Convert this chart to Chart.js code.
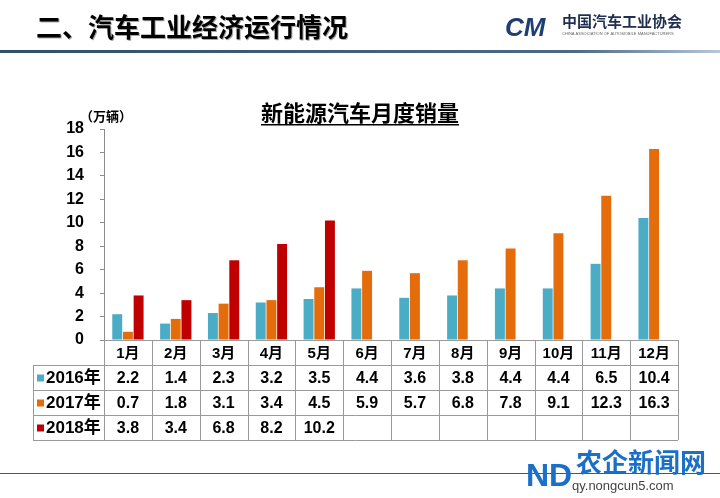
<!DOCTYPE html>
<html lang="zh">
<head>
<meta charset="UTF-8">
<title>新能源汽车月度销量</title>
<script src="https://cdn.jsdelivr.net/npm/chart.js"></script>
<style>
  body { margin: 0; background: #fff; }
  #wrap { width: 720px; height: 498px; }
</style>
</head>
<body>
<div id="wrap"><canvas id="myChart" width="720" height="498"></canvas></div>
<script>
  const months = ['1月', '2月', '3月', '4月', '5月', '6月', '7月', '8月', '9月', '10月', '11月', '12月'];
  const seriesNames = ['2016年', '2017年', '2018年'];
  const sales2016 = [2.2, 1.4, 2.3, 3.2, 3.5, 4.4, 3.6, 3.8, 4.4, 4.4, 6.5, 10.4];
  const sales2017 = [0.7, 1.8, 3.1, 3.4, 4.5, 5.9, 5.7, 6.8, 7.8, 9.1, 12.3, 16.3];
  const sales2018 = [3.8, 3.4, 6.8, 8.2, 10.2, null, null, null, null, null, null, null];
  const yTicks = [0, 2, 4, 6, 8, 10, 12, 14, 16, 18];

  const colors = ['#4bacc6', '#e46c0a', '#c00000'];
  const allSeries = [sales2016, sales2017, sales2018];
  const cjk = '"Liberation Sans", Arial, "Noto Sans CJK SC", sans-serif';

  // header, title, data table and footer are painted around the chart area
  const decor = {
    id: 'decor',
    afterDraw(chart) {
      const c = chart.ctx;
      const area = chart.chartArea;
      const xs = chart.scales.x;
      const step = (area.right - area.left) / months.length;
      const rowH = 25;
      const top = area.bottom;
      const legendLeft = 33;

      c.save();
      // page header
      c.shadowColor = 'rgba(0,0,0,0.35)';
      c.shadowOffsetX = 1;
      c.shadowOffsetY = 1;
      c.fillStyle = '#000';
      c.font = 'bold 26px "Noto Sans CJK SC", sans-serif';
      c.textBaseline = 'alphabetic';
      c.fillText('二、汽车工业经济运行情况', 36, 37);
      c.shadowColor = 'transparent';

      const g = c.createLinearGradient(0, 0, 720, 0);
      g.addColorStop(0, '#2f4f6e');
      g.addColorStop(0.8, '#4a6a88');
      g.addColorStop(1, '#b8c8d8');
      c.fillStyle = g;
      c.fillRect(0, 50, 720, 3);

      // logo
      c.fillStyle = '#1f3f73';
      c.font = 'italic bold 26px "Liberation Sans", sans-serif';
      c.fillText('CM', 505, 36);
      c.font = 'bold 15px "Noto Sans CJK SC", sans-serif';
      c.fillStyle = '#1f2f4f';
      c.fillText('中国汽车工业协会', 562, 27);
      c.font = '4px "Liberation Sans", sans-serif';
      c.fillStyle = '#666';
      c.fillText('CHINA ASSOCIATION OF AUTOMOBILE MANUFACTURERS', 562, 35);

      // chart title
      c.fillStyle = '#000';
      c.font = 'bold 22px "Noto Sans CJK SC", sans-serif';
      c.textAlign = 'center';
      c.fillText('新能源汽车月度销量', 360, 121);
      const tw = c.measureText('新能源汽车月度销量').width;
      c.fillRect(360 - tw / 2, 124, tw, 1.5);

      // unit
      c.font = 'bold 13px "Noto Sans CJK SC", sans-serif';
      c.textAlign = 'left';
      c.fillText('（万辆）', 80, 121);

      // table grid
      c.strokeStyle = '#9a9a9a';
      c.lineWidth = 1;
      c.beginPath();
      c.moveTo(area.left, top + 0.5);
      c.lineTo(area.right, top + 0.5);
      for (let r = 1; r <= 4; r++) {
        const yy = Math.round(top + r * rowH) + 0.5;
        c.moveTo(legendLeft, yy);
        c.lineTo(area.right, yy);
      }
      c.moveTo(legendLeft + 0.5, top + rowH);
      c.lineTo(legendLeft + 0.5, top + 4 * rowH);
      for (let i = 0; i <= months.length; i++) {
        const xx = Math.round(area.left + i * step) + 0.5;
        c.moveTo(xx, top);
        c.lineTo(xx, top + 4 * rowH);
      }
      c.stroke();

      // month labels
      c.textAlign = 'center';
      c.textBaseline = 'middle';
      c.fillStyle = '#000';
      c.font = 'bold 15px ' + cjk;
      months.forEach((m, i) => {
        c.fillText(m, xs.getPixelForValue(i), top + rowH / 2 + 1);
      });

      // series rows
      allSeries.forEach((vals, r) => {
        const cy = top + (r + 1.5) * rowH + 1;
        c.fillStyle = colors[r];
        c.fillRect(legendLeft + 4, cy - 4, 7, 7);
        c.fillStyle = '#000';
        c.textAlign = 'left';
        c.font = 'bold 17px ' + cjk;
        c.fillText(seriesNames[r], legendLeft + 13, cy);
        c.textAlign = 'center';
        c.font = 'bold 16px ' + cjk;
        vals.forEach((v, i) => {
          if (v === null) return;
          c.fillText(v.toFixed(1), xs.getPixelForValue(i), cy);
        });
      });

      // footer line and watermark
      c.fillStyle = '#555';
      c.fillRect(0, 473, 720, 1);
      c.textAlign = 'left';
      c.textBaseline = 'alphabetic';
      c.fillStyle = '#1a6fc9';
      c.font = 'bold 32px "Liberation Sans", sans-serif';
      c.fillText('ND', 526, 486);
      c.font = 'bold 26px "Noto Sans CJK SC", sans-serif';
      c.fillText('农企新闻网', 576, 472);
      c.fillStyle = '#444';
      c.font = '13px "Liberation Sans", sans-serif';
      c.fillText('qy.nongcun5.com', 572, 490);
      c.restore();
    }
  };

  const ctx = document.getElementById('myChart').getContext('2d');
  const myChart = new Chart(ctx, {
    type: 'bar',
    data: {
      labels: months,
      datasets: seriesNames.map((name, i) => ({
        label: name,
        data: allSeries[i],
        backgroundColor: colors[i],
        borderWidth: 0,
        categoryPercentage: 0.67,
        barPercentage: 0.93
      }))
    },
    options: {
      responsive: false,
      animation: false,
      layout: { padding: { left: 0, right: 42, top: 129, bottom: 158 } },
      plugins: {
        legend: { display: false },
        tooltip: { enabled: false }
      },
      scales: {
        x: { display: false },
        y: {
          min: 0,
          max: 18,
          afterFit: s => { s.width = 104; },
          afterBuildTicks: s => { s.ticks = yTicks.map(v => ({ value: v })); },
          border: { display: true, color: '#8c8c8c', width: 1 },
          grid: { drawOnChartArea: false, drawTicks: true, tickLength: 4, color: '#8c8c8c' },
          ticks: {
            color: '#000',
            padding: 16,
            font: { family: 'Liberation Sans, Arial, sans-serif', size: 16, weight: 'bold' }
          }
        }
      }
    },
    plugins: [decor]
  });
</script>
</body>
</html>
